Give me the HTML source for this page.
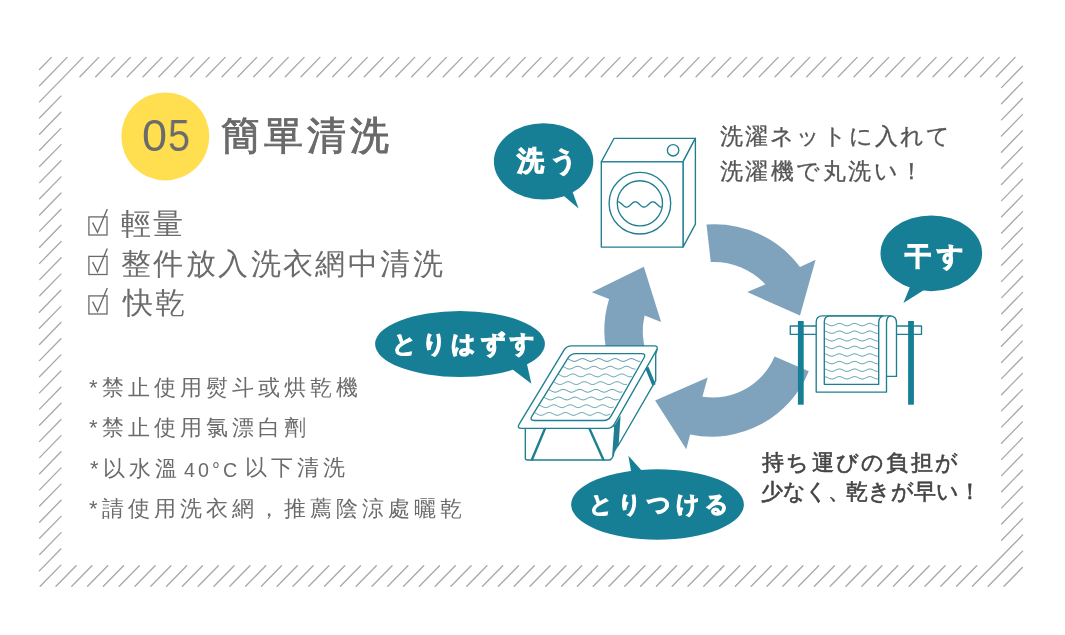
<!DOCTYPE html>
<html><head><meta charset="utf-8">
<style>
html,body{margin:0;padding:0;background:#fff;}
body{width:1065px;height:635px;position:relative;overflow:hidden;font-family:"Liberation Sans",sans-serif;}
svg{position:absolute;left:0;top:0;}
.t{position:absolute;white-space:nowrap;line-height:1;will-change:transform;}
.g{color:#6b6b6b;}
.b{color:#fff;font-weight:bold;}
.g2{color:#555;}
.g3{color:#444;}
</style></head><body>
<svg width="1065" height="635" viewBox="0 0 1065 635">

<path fill="none" stroke="#a9a9a9" stroke-width="1.35" stroke-linecap="round" d="M51.3 57.4L39.5 69.5M67.1 57.4L39.5 85.7M82.9 57.4L39.5 101.9M98.7 57.4L79.9 76.7M60.9 96.1L39.5 118.0M114.5 57.4L95.7 76.7M60.9 112.3L39.5 134.2M130.3 57.4L111.5 76.7M60.9 128.4L39.5 150.3M146.1 57.4L127.3 76.7M61.0 144.6L39.5 166.5M161.9 57.4L143.1 76.7M61.0 160.7L39.6 182.6M177.7 57.4L158.9 76.7M61.0 176.9L39.6 198.8M193.5 57.4L174.7 76.7M61.0 193.0L39.6 215.0M209.3 57.4L190.5 76.7M61.0 209.2L39.6 231.1M225.1 57.4L206.3 76.7M61.0 225.3L39.6 247.3M240.9 57.4L222.1 76.7M61.1 241.5L39.6 263.4M256.7 57.4L237.9 76.7M61.1 257.7L39.7 279.6M272.5 57.4L253.7 76.7M60.8 274.1L39.7 295.7M288.3 57.4L269.5 76.7M60.8 290.2L39.4 312.2M304.1 57.4L285.3 76.7M60.9 306.4L39.4 328.3M319.9 57.4L301.1 76.7M60.9 322.5L39.5 344.5M335.7 57.4L316.9 76.7M60.9 338.7L39.5 360.6M351.5 57.4L332.7 76.7M60.9 354.9L39.5 376.8M367.3 57.4L348.5 76.7M60.9 371.0L39.5 392.9M383.1 57.4L364.3 76.7M60.9 387.2L39.5 409.1M398.9 57.4L380.1 76.7M61.0 403.3L39.5 425.2M414.7 57.4L395.9 76.7M61.0 419.5L39.6 441.4M430.5 57.4L411.7 76.7M61.0 435.6L39.6 457.6M446.3 57.4L427.5 76.7M61.0 451.8L39.6 473.7M462.1 57.4L443.3 76.7M61.0 467.9L39.6 489.9M477.9 57.4L459.1 76.7M61.0 484.1L39.6 506.0M493.7 57.4L474.9 76.7M61.0 500.3L39.6 522.2M509.5 57.4L490.7 76.7M61.1 516.4L39.6 538.3M525.3 57.4L506.5 76.7M61.1 532.6L39.7 554.5M541.1 57.4L522.3 76.7M60.8 549.0L39.4 570.9M556.9 57.4L538.1 76.7M60.9 565.1L40.2 586.3M572.7 57.4L553.9 76.7M76.1 565.7L56.0 586.3M588.5 57.4L569.7 76.7M91.9 565.7L71.8 586.3M604.3 57.4L585.5 76.7M107.7 565.7L87.6 586.3M620.1 57.4L601.3 76.7M123.5 565.7L103.4 586.3M635.9 57.4L617.1 76.7M139.3 565.7L119.2 586.3M651.7 57.4L632.9 76.7M155.1 565.7L135.0 586.3M667.5 57.4L648.7 76.7M170.9 565.7L150.8 586.3M683.3 57.4L664.5 76.7M186.7 565.7L166.6 586.3M699.1 57.4L680.3 76.7M202.5 565.7L182.4 586.3M714.9 57.4L696.1 76.7M218.3 565.7L198.2 586.3M730.7 57.4L711.9 76.7M234.1 565.7L214.0 586.3M746.5 57.4L727.7 76.7M249.9 565.7L229.8 586.3M762.3 57.4L743.5 76.7M265.7 565.7L245.6 586.3M778.1 57.4L759.3 76.7M281.5 565.7L261.4 586.3M793.9 57.4L775.1 76.7M297.3 565.7L277.2 586.3M809.7 57.4L790.9 76.7M313.1 565.7L293.0 586.3M825.5 57.4L806.7 76.7M328.9 565.7L308.8 586.3M841.3 57.4L822.5 76.7M344.7 565.7L324.6 586.3M857.1 57.4L838.3 76.7M360.5 565.7L340.4 586.3M872.9 57.4L854.1 76.7M376.3 565.7L356.2 586.3M888.7 57.4L869.9 76.7M392.1 565.7L372.0 586.3M904.5 57.4L885.7 76.7M407.9 565.7L387.8 586.3M920.3 57.4L901.5 76.7M423.7 565.7L403.6 586.3M936.1 57.4L917.3 76.7M439.5 565.7L419.4 586.3M951.9 57.4L933.1 76.7M455.3 565.7L435.2 586.3M967.7 57.4L948.9 76.7M471.1 565.7L451.0 586.3M983.5 57.4L964.7 76.7M486.9 565.7L466.8 586.3M999.3 57.4L980.5 76.7M502.7 565.7L482.6 586.3M1015.1 57.4L996.3 76.7M518.5 565.7L498.4 586.3M1022.4 66.2L1001.5 87.6M534.3 565.7L514.2 586.3M1022.4 82.3L1001.5 103.7M550.1 565.7L530.0 586.3M1022.4 98.5L1001.5 119.9M565.9 565.7L545.8 586.3M1022.4 114.6L1001.5 136.0M581.7 565.7L561.6 586.3M1022.4 130.8L1001.5 152.2M597.5 565.7L577.4 586.3M1022.4 146.9L1001.5 168.3M613.3 565.7L593.2 586.3M1022.4 163.1L1001.5 184.5M629.1 565.7L609.0 586.3M1022.5 179.3L1001.6 200.6M644.9 565.7L624.8 586.3M1022.5 195.4L1001.6 216.8M660.7 565.7L640.6 586.3M1022.5 211.6L1001.6 233.0M676.5 565.7L656.4 586.3M1022.5 227.7L1001.6 249.1M692.3 565.7L672.2 586.3M1022.5 243.9L1001.6 265.3M708.1 565.7L688.0 586.3M1022.5 260.0L1001.6 281.4M723.9 565.7L703.8 586.3M1022.6 276.2L1001.7 297.6M739.7 565.7L719.6 586.3M1022.6 292.4L1001.7 313.7M755.5 565.7L735.4 586.3M1022.3 308.8L1001.4 330.2M771.3 565.7L751.2 586.3M1022.3 324.9L1001.4 346.3M787.1 565.7L767.0 586.3M1022.4 341.1L1001.5 362.5M802.9 565.7L782.8 586.3M1022.4 357.2L1001.5 378.6M818.7 565.7L798.6 586.3M1022.4 373.4L1001.5 394.8M834.5 565.7L814.4 586.3M1022.4 389.6L1001.5 410.9M850.3 565.7L830.2 586.3M1022.4 405.7L1001.5 427.1M866.1 565.7L846.0 586.3M1022.4 421.9L1001.5 443.3M881.9 565.7L861.8 586.3M1022.5 438.0L1001.6 459.4M897.7 565.7L877.6 586.3M1022.5 454.2L1001.6 475.6M913.5 565.7L893.4 586.3M1022.5 470.3L1001.6 491.7M929.3 565.7L909.2 586.3M1022.5 486.5L1001.6 507.9M945.1 565.7L925.0 586.3M1022.5 502.6L1001.6 524.0M960.9 565.7L940.8 586.3M1022.5 518.8L1001.6 540.2M976.7 565.7L956.6 586.3M1022.6 535.0L972.4 586.3M1022.6 551.1L988.2 586.3M1022.3 567.5L1004.0 586.3"/>
<circle cx="165.3" cy="136.4" r="44" fill="#ffdf50"/>
<g fill="#7fa2bd">
<path d="M706.5 224.5A107 107 0 0 1 800 267L815.6 259.7L800 315.5L747.2 292.1L765.4 284.3A70 70 0 0 0 710.8 262.1Z"/>
<path d="M808.8 371.2A105 105 0 0 1 690.1 434.5L686.3 449.3L655.1 400.5L707.7 377.4L702.4 396.7A67 67 0 0 0 774.6 356.6Z"/>
<path d="M609.6 363A106 106 0 0 1 609.1 299.1L591.8 292.3L643.8 266.8L661.1 321.9L644.6 315.6A68 68 0 0 0 646 351.9Z"/>
</g>
<g fill="#167f96">
<path d="M493.90000000000003 161.4A49.7 38.2 0 1 1 593.3000000000001 161.4A49.7 38.2 0 1 1 493.90000000000003 161.4ZM555.4 188.8L569.5 183.2L578.6 208.6Z"/>
<path d="M880.5 253.3A50.8 37.8 0 1 1 982.0999999999999 253.3A50.8 37.8 0 1 1 880.5 253.3ZM912.2 281.6L927.2 287.9L903.4 302.9Z"/>
<path d="M375.1 344A84.9 33 0 1 1 544.9 344A84.9 33 0 1 1 375.1 344ZM504.4 363.4L524.7 353.9L531.4 383.7Z"/>
<path d="M571.1 504.5A86.4 35.2 0 1 1 743.9 504.5A86.4 35.2 0 1 1 571.1 504.5ZM632.6 480.1L628.4 455.8L647.9 477.4Z"/>
</g>
<g fill="#fff" stroke="#1f7f91" stroke-width="1.35" stroke-linejoin="round">
<path d="M601.3 161.9L614.1 138.3H695.4L683 161.9Z"/>
<path d="M683 161.9L695.4 138.3V224.1L683 247.1Z"/>
<rect x="601.3" y="161.9" width="81.7" height="85.2"/>
<circle cx="673.1" cy="150.3" r="5.7"/>
<circle cx="639.9" cy="203.2" r="30.8"/>
<circle cx="639.9" cy="203.3" r="22.6"/>
<path fill="none" d="M617.8 201.80L618.6 201.91L619.4 202.23L620.2 202.72L621.0 203.36L621.8 204.09L622.6 204.85L623.4 205.58L624.2 206.21L625.0 206.70L625.8 207.00L626.6 207.10L627.4 206.98L628.2 206.65L629.0 206.14L629.8 205.49L630.6 204.76L631.4 204.00L632.2 203.28L633.0 202.65L633.8 202.18L634.6 201.88L635.4 201.80L636.2 201.94L637.0 202.28L637.8 202.80L638.6 203.45L639.4 204.19L640.2 204.95L641.0 205.66L641.8 206.28L642.6 206.75L643.4 207.03L644.2 207.10L645.0 206.95L645.8 206.59L646.6 206.06L647.4 205.40L648.2 204.66L649.0 203.91L649.8 203.19L650.6 202.58L651.4 202.13L652.2 201.86L653.0 201.81L653.8 201.97L654.6 202.33L655.4 202.87L656.2 203.54L657.0 204.28L657.8 205.04L658.6 205.75L659.4 206.35L660.2 206.79L661.0 207.05L661.8 207.09"/>
</g>
<!-- tray -->
<g fill="#fff" stroke="#1f7f91" stroke-width="1.35" stroke-linejoin="round" stroke-linecap="round">
<path fill="none" d="M657 350L655.7 354V380.6L618.2 445.5"/>
<path d="M525.3 426V458Q525.3 460 527.5 460H609.5Q612 459.5 613.5 455L616 426Z"/>
<path fill="none" stroke-width="2.4" d="M545 428.5L532 459.5M589.4 428.5L603.3 459.5"/>
<path fill="#1f7f91" stroke="none" d="M614.2 426L620.6 415.5L618.6 445.5L612.1 456.5Z"/>
<path fill="none" stroke-width="3.6" stroke-linecap="butt" d="M646.8 367.5L654 385"/>
<path d="M564.0 350.2Q566.6 345.9 571.6 345.9L654.0 345.9Q659.0 345.9 656.5 350.2L614.4 424.1Q611.9 428.4 606.9 428.4L521.6 428.4Q516.6 428.4 519.2 424.1Z"/>
<path d="M568.1 357.9Q570.7 353.6 575.7 353.6L641.4 353.6Q646.4 353.6 643.9 358.0L611.0 416.1Q608.5 420.5 603.5 420.5L534.3 420.5Q529.3 420.5 531.9 416.2Z"/>
<path fill="none" stroke="#4f98a8" stroke-width="0.95" d="M568.0 358.94L569.0 359.36L570.0 359.88L571.0 360.41L572.0 360.89L573.0 361.23L574.0 361.39L575.0 361.35L576.0 361.11L577.0 360.71L578.0 360.20L579.0 359.67L580.0 359.18L581.0 358.81L582.0 358.62L583.0 358.63L584.0 358.84L585.0 359.22L586.0 359.72L587.0 360.26L588.0 360.75L589.0 361.14L590.0 361.36L591.0 361.38L592.0 361.20L593.0 360.84L594.0 360.36L595.0 359.82L596.0 359.32L597.0 358.91L598.0 358.66L599.0 358.61L600.0 358.76L601.0 359.09L602.0 359.56L603.0 360.10L604.0 360.61L605.0 361.04L606.0 361.32L607.0 361.40L608.0 361.28L609.0 360.97L610.0 360.51L611.0 359.99L612.0 359.46L613.0 359.01L614.0 358.71L615.0 358.60L616.0 358.69L617.0 358.98L618.0 359.41L619.0 359.93L620.0 360.46L621.0 360.93L622.0 361.25L623.0 361.40L624.0 361.33L625.0 361.08L626.0 360.66L627.0 360.15L628.0 359.61L629.0 359.14L630.0 358.79L631.0 358.61L632.0 358.64L633.0 358.87L634.0 359.27L635.0 359.77L636.0 360.31L637.0 360.80L638.0 361.17L639.0 361.37L640.0 361.37M563.2 366.64L564.2 367.06L565.2 367.58L566.2 368.11L567.2 368.59L568.2 368.93L569.2 369.09L570.2 369.05L571.2 368.81L572.2 368.41L573.2 367.90L574.2 367.37L575.2 366.88L576.2 366.51L577.2 366.32L578.2 366.33L579.2 366.54L580.2 366.92L581.2 367.42L582.2 367.96L583.2 368.45L584.2 368.84L585.2 369.06L586.2 369.08L587.2 368.90L588.2 368.54L589.2 368.06L590.2 367.52L591.2 367.02L592.2 366.61L593.2 366.36L594.2 366.31L595.2 366.46L596.2 366.79L597.2 367.26L598.2 367.80L599.2 368.31L600.2 368.74L601.2 369.02L602.2 369.10L603.2 368.98L604.2 368.67L605.2 368.21L606.2 367.69L607.2 367.16L608.2 366.71L609.2 366.41L610.2 366.30L611.2 366.39L612.2 366.68L613.2 367.11L614.2 367.63L615.2 368.16L616.2 368.63L617.2 368.95L618.2 369.10L619.2 369.03L620.2 368.78L621.2 368.36L622.2 367.85L623.2 367.31L624.2 366.84L625.2 366.49L626.2 366.31L627.2 366.34L628.2 366.57L629.2 366.97L630.2 367.47L631.2 368.01L632.2 368.50L633.2 368.87L634.2 369.07L635.2 369.07M558.4 374.34L559.4 374.76L560.4 375.28L561.4 375.81L562.4 376.29L563.4 376.63L564.4 376.79L565.4 376.75L566.4 376.51L567.4 376.11L568.4 375.60L569.4 375.07L570.4 374.58L571.4 374.21L572.4 374.02L573.4 374.03L574.4 374.24L575.4 374.62L576.4 375.12L577.4 375.66L578.4 376.15L579.4 376.54L580.4 376.76L581.4 376.78L582.4 376.60L583.4 376.24L584.4 375.76L585.4 375.22L586.4 374.72L587.4 374.31L588.4 374.06L589.4 374.01L590.4 374.16L591.4 374.49L592.4 374.96L593.4 375.50L594.4 376.01L595.4 376.44L596.4 376.72L597.4 376.80L598.4 376.68L599.4 376.37L600.4 375.91L601.4 375.39L602.4 374.86L603.4 374.41L604.4 374.11L605.4 374.00L606.4 374.09L607.4 374.38L608.4 374.81L609.4 375.33L610.4 375.86L611.4 376.33L612.4 376.65L613.4 376.80L614.4 376.73L615.4 376.48L616.4 376.06L617.4 375.55L618.4 375.01L619.4 374.54L620.4 374.19L621.4 374.01L622.4 374.04L623.4 374.27L624.4 374.67L625.4 375.17L626.4 375.71L627.4 376.20L628.4 376.57L629.4 376.77L630.4 376.77L631.4 376.57M553.7 382.04L554.7 382.46L555.7 382.98L556.7 383.51L557.7 383.99L558.7 384.33L559.7 384.49L560.7 384.45L561.7 384.21L562.7 383.81L563.7 383.30L564.7 382.77L565.7 382.28L566.7 381.91L567.7 381.72L568.7 381.73L569.7 381.94L570.7 382.32L571.7 382.82L572.7 383.36L573.7 383.85L574.7 384.24L575.7 384.46L576.7 384.48L577.7 384.30L578.7 383.94L579.7 383.46L580.7 382.92L581.7 382.42L582.7 382.01L583.7 381.76L584.7 381.71L585.7 381.86L586.7 382.19L587.7 382.66L588.7 383.20L589.7 383.71L590.7 384.14L591.7 384.42L592.7 384.50L593.7 384.38L594.7 384.07L595.7 383.61L596.7 383.09L597.7 382.56L598.7 382.11L599.7 381.81L600.7 381.70L601.7 381.79L602.7 382.08L603.7 382.51L604.7 383.03L605.7 383.56L606.7 384.03L607.7 384.35L608.7 384.50L609.7 384.43L610.7 384.18L611.7 383.76L612.7 383.25L613.7 382.71L614.7 382.24L615.7 381.89L616.7 381.71L617.7 381.74L618.7 381.97L619.7 382.37L620.7 382.87L621.7 383.41L622.7 383.90L623.7 384.27L624.7 384.47L625.7 384.47L626.7 384.27M548.9 389.74L549.9 390.16L550.9 390.68L551.9 391.21L552.9 391.69L553.9 392.03L554.9 392.19L555.9 392.15L556.9 391.91L557.9 391.51L558.9 391.00L559.9 390.47L560.9 389.98L561.9 389.61L562.9 389.42L563.9 389.43L564.9 389.64L565.9 390.02L566.9 390.52L567.9 391.06L568.9 391.55L569.9 391.94L570.9 392.16L571.9 392.18L572.9 392.00L573.9 391.64L574.9 391.16L575.9 390.62L576.9 390.12L577.9 389.71L578.9 389.46L579.9 389.41L580.9 389.56L581.9 389.89L582.9 390.36L583.9 390.90L584.9 391.41L585.9 391.84L586.9 392.12L587.9 392.20L588.9 392.08L589.9 391.77L590.9 391.31L591.9 390.79L592.9 390.26L593.9 389.81L594.9 389.51L595.9 389.40L596.9 389.49L597.9 389.78L598.9 390.21L599.9 390.73L600.9 391.26L601.9 391.73L602.9 392.05L603.9 392.20L604.9 392.13L605.9 391.88L606.9 391.46L607.9 390.95L608.9 390.41L609.9 389.94L610.9 389.59L611.9 389.41L612.9 389.44L613.9 389.67L614.9 390.07L615.9 390.57L616.9 391.11L617.9 391.60L618.9 391.97L619.9 392.17L620.9 392.17L621.9 391.97M544.2 397.44L545.2 397.86L546.2 398.38L547.2 398.91L548.2 399.39L549.2 399.73L550.2 399.89L551.2 399.85L552.2 399.61L553.2 399.21L554.2 398.70L555.2 398.17L556.2 397.68L557.2 397.31L558.2 397.12L559.2 397.13L560.2 397.34L561.2 397.72L562.2 398.22L563.2 398.76L564.2 399.25L565.2 399.64L566.2 399.86L567.2 399.88L568.2 399.70L569.2 399.34L570.2 398.86L571.2 398.32L572.2 397.82L573.2 397.41L574.2 397.16L575.2 397.11L576.2 397.26L577.2 397.59L578.2 398.06L579.2 398.60L580.2 399.11L581.2 399.54L582.2 399.82L583.2 399.90L584.2 399.78L585.2 399.47L586.2 399.01L587.2 398.49L588.2 397.96L589.2 397.51L590.2 397.21L591.2 397.10L592.2 397.19L593.2 397.48L594.2 397.91L595.2 398.43L596.2 398.96L597.2 399.43L598.2 399.75L599.2 399.90L600.2 399.83L601.2 399.58L602.2 399.16L603.2 398.65L604.2 398.11L605.2 397.64L606.2 397.29L607.2 397.11L608.2 397.14L609.2 397.37L610.2 397.77L611.2 398.27L612.2 398.81L613.2 399.30L614.2 399.67L615.2 399.87L616.2 399.87L617.2 399.67L618.2 399.30M539.4 405.14L540.4 405.56L541.4 406.08L542.4 406.61L543.4 407.09L544.4 407.43L545.4 407.59L546.4 407.55L547.4 407.31L548.4 406.91L549.4 406.40L550.4 405.87L551.4 405.38L552.4 405.01L553.4 404.82L554.4 404.83L555.4 405.04L556.4 405.42L557.4 405.92L558.4 406.46L559.4 406.95L560.4 407.34L561.4 407.56L562.4 407.58L563.4 407.40L564.4 407.04L565.4 406.56L566.4 406.02L567.4 405.52L568.4 405.11L569.4 404.86L570.4 404.81L571.4 404.96L572.4 405.29L573.4 405.76L574.4 406.30L575.4 406.81L576.4 407.24L577.4 407.52L578.4 407.60L579.4 407.48L580.4 407.17L581.4 406.71L582.4 406.19L583.4 405.66L584.4 405.21L585.4 404.91L586.4 404.80L587.4 404.89L588.4 405.18L589.4 405.61L590.4 406.13L591.4 406.66L592.4 407.13L593.4 407.45L594.4 407.60L595.4 407.53L596.4 407.28L597.4 406.86L598.4 406.35L599.4 405.81L600.4 405.34L601.4 404.99L602.4 404.81L603.4 404.84L604.4 405.07L605.4 405.47L606.4 405.97L607.4 406.51L608.4 407.00L609.4 407.37L610.4 407.57L611.4 407.57L612.4 407.37L613.4 407.00M534.7 412.84L535.7 413.26L536.7 413.78L537.7 414.31L538.7 414.79L539.7 415.13L540.7 415.29L541.7 415.25L542.7 415.01L543.7 414.61L544.7 414.10L545.7 413.57L546.7 413.08L547.7 412.71L548.7 412.52L549.7 412.53L550.7 412.74L551.7 413.12L552.7 413.62L553.7 414.16L554.7 414.65L555.7 415.04L556.7 415.26L557.7 415.28L558.7 415.10L559.7 414.74L560.7 414.26L561.7 413.72L562.7 413.22L563.7 412.81L564.7 412.56L565.7 412.51L566.7 412.66L567.7 412.99L568.7 413.46L569.7 414.00L570.7 414.51L571.7 414.94L572.7 415.22L573.7 415.30L574.7 415.18L575.7 414.87L576.7 414.41L577.7 413.89L578.7 413.36L579.7 412.91L580.7 412.61L581.7 412.50L582.7 412.59L583.7 412.88L584.7 413.31L585.7 413.83L586.7 414.36L587.7 414.83L588.7 415.15L589.7 415.30L590.7 415.23L591.7 414.98L592.7 414.56L593.7 414.05L594.7 413.51L595.7 413.04L596.7 412.69L597.7 412.51L598.7 412.54L599.7 412.77L600.7 413.17L601.7 413.67L602.7 414.21L603.7 414.70L604.7 415.07L605.7 415.27L606.7 415.27L607.7 415.07L608.7 414.70L609.7 414.21"/>
</g>
<!-- rack -->
<g fill="#fff" stroke="#1f7f91" stroke-width="1.35" stroke-linejoin="round">
<rect x="790.3" y="326" width="131.2" height="8.4"/>
<path d="M816.2 392.1V322Q816.2 315.8 822.5 315.8H890Q896.5 315.8 896.5 323V376.4H886.5V392.1Z"/>
<path fill="none" d="M886.5 376.4V323Q886.5 316 891 315.8"/>
<path d="M824.3 384.3V322Q824.3 316 830 316H883Q878.7 317 878.7 323V384.3Z"/>
<path fill="none" stroke="#4f98a8" stroke-width="0.95" d="M824.8 323.44L825.8 323.65L826.8 324.03L827.8 324.50L828.8 324.99L829.8 325.41L830.8 325.70L831.8 325.80L832.8 325.70L833.8 325.41L834.8 324.99L835.8 324.50L836.8 324.03L837.8 323.65L838.8 323.44L839.8 323.42L840.8 323.60L841.8 323.94L842.8 324.40L843.8 324.89L844.8 325.34L845.8 325.66L846.8 325.80L847.8 325.73L848.8 325.48L849.8 325.08L850.8 324.60L851.8 324.12L852.8 323.72L853.8 323.47L854.8 323.40L855.8 323.54L856.8 323.86L857.8 324.31L858.8 324.80L859.8 325.26L860.8 325.60L861.8 325.78L862.8 325.76L863.8 325.55L864.8 325.17L865.8 324.70L866.8 324.21L867.8 323.79L868.8 323.50L869.8 323.40L870.8 323.50L871.8 323.79L872.8 324.21L873.8 324.70L874.8 325.17L875.8 325.55L876.8 325.76L877.8 325.78M824.8 331.04L825.8 331.25L826.8 331.63L827.8 332.10L828.8 332.59L829.8 333.01L830.8 333.30L831.8 333.40L832.8 333.30L833.8 333.01L834.8 332.59L835.8 332.10L836.8 331.63L837.8 331.25L838.8 331.04L839.8 331.02L840.8 331.20L841.8 331.54L842.8 332.00L843.8 332.49L844.8 332.94L845.8 333.26L846.8 333.40L847.8 333.33L848.8 333.08L849.8 332.68L850.8 332.20L851.8 331.72L852.8 331.32L853.8 331.07L854.8 331.00L855.8 331.14L856.8 331.46L857.8 331.91L858.8 332.40L859.8 332.86L860.8 333.20L861.8 333.38L862.8 333.36L863.8 333.15L864.8 332.77L865.8 332.30L866.8 331.81L867.8 331.39L868.8 331.10L869.8 331.00L870.8 331.10L871.8 331.39L872.8 331.81L873.8 332.30L874.8 332.77L875.8 333.15L876.8 333.36L877.8 333.38M824.8 338.64L825.8 338.85L826.8 339.23L827.8 339.70L828.8 340.19L829.8 340.61L830.8 340.90L831.8 341.00L832.8 340.90L833.8 340.61L834.8 340.19L835.8 339.70L836.8 339.23L837.8 338.85L838.8 338.64L839.8 338.62L840.8 338.80L841.8 339.14L842.8 339.60L843.8 340.09L844.8 340.54L845.8 340.86L846.8 341.00L847.8 340.93L848.8 340.68L849.8 340.28L850.8 339.80L851.8 339.32L852.8 338.92L853.8 338.67L854.8 338.60L855.8 338.74L856.8 339.06L857.8 339.51L858.8 340.00L859.8 340.46L860.8 340.80L861.8 340.98L862.8 340.96L863.8 340.75L864.8 340.37L865.8 339.90L866.8 339.41L867.8 338.99L868.8 338.70L869.8 338.60L870.8 338.70L871.8 338.99L872.8 339.41L873.8 339.90L874.8 340.37L875.8 340.75L876.8 340.96L877.8 340.98M824.8 346.24L825.8 346.45L826.8 346.83L827.8 347.30L828.8 347.79L829.8 348.21L830.8 348.50L831.8 348.60L832.8 348.50L833.8 348.21L834.8 347.79L835.8 347.30L836.8 346.83L837.8 346.45L838.8 346.24L839.8 346.22L840.8 346.40L841.8 346.74L842.8 347.20L843.8 347.69L844.8 348.14L845.8 348.46L846.8 348.60L847.8 348.53L848.8 348.28L849.8 347.88L850.8 347.40L851.8 346.92L852.8 346.52L853.8 346.27L854.8 346.20L855.8 346.34L856.8 346.66L857.8 347.11L858.8 347.60L859.8 348.06L860.8 348.40L861.8 348.58L862.8 348.56L863.8 348.35L864.8 347.97L865.8 347.50L866.8 347.01L867.8 346.59L868.8 346.30L869.8 346.20L870.8 346.30L871.8 346.59L872.8 347.01L873.8 347.50L874.8 347.97L875.8 348.35L876.8 348.56L877.8 348.58M824.8 353.84L825.8 354.05L826.8 354.43L827.8 354.90L828.8 355.39L829.8 355.81L830.8 356.10L831.8 356.20L832.8 356.10L833.8 355.81L834.8 355.39L835.8 354.90L836.8 354.43L837.8 354.05L838.8 353.84L839.8 353.82L840.8 354.00L841.8 354.34L842.8 354.80L843.8 355.29L844.8 355.74L845.8 356.06L846.8 356.20L847.8 356.13L848.8 355.88L849.8 355.48L850.8 355.00L851.8 354.52L852.8 354.12L853.8 353.87L854.8 353.80L855.8 353.94L856.8 354.26L857.8 354.71L858.8 355.20L859.8 355.66L860.8 356.00L861.8 356.18L862.8 356.16L863.8 355.95L864.8 355.57L865.8 355.10L866.8 354.61L867.8 354.19L868.8 353.90L869.8 353.80L870.8 353.90L871.8 354.19L872.8 354.61L873.8 355.10L874.8 355.57L875.8 355.95L876.8 356.16L877.8 356.18M824.8 361.44L825.8 361.65L826.8 362.03L827.8 362.50L828.8 362.99L829.8 363.41L830.8 363.70L831.8 363.80L832.8 363.70L833.8 363.41L834.8 362.99L835.8 362.50L836.8 362.03L837.8 361.65L838.8 361.44L839.8 361.42L840.8 361.60L841.8 361.94L842.8 362.40L843.8 362.89L844.8 363.34L845.8 363.66L846.8 363.80L847.8 363.73L848.8 363.48L849.8 363.08L850.8 362.60L851.8 362.12L852.8 361.72L853.8 361.47L854.8 361.40L855.8 361.54L856.8 361.86L857.8 362.31L858.8 362.80L859.8 363.26L860.8 363.60L861.8 363.78L862.8 363.76L863.8 363.55L864.8 363.17L865.8 362.70L866.8 362.21L867.8 361.79L868.8 361.50L869.8 361.40L870.8 361.50L871.8 361.79L872.8 362.21L873.8 362.70L874.8 363.17L875.8 363.55L876.8 363.76L877.8 363.78M824.8 369.04L825.8 369.25L826.8 369.63L827.8 370.10L828.8 370.59L829.8 371.01L830.8 371.30L831.8 371.40L832.8 371.30L833.8 371.01L834.8 370.59L835.8 370.10L836.8 369.63L837.8 369.25L838.8 369.04L839.8 369.02L840.8 369.20L841.8 369.54L842.8 370.00L843.8 370.49L844.8 370.94L845.8 371.26L846.8 371.40L847.8 371.33L848.8 371.08L849.8 370.68L850.8 370.20L851.8 369.72L852.8 369.32L853.8 369.07L854.8 369.00L855.8 369.14L856.8 369.46L857.8 369.91L858.8 370.40L859.8 370.86L860.8 371.20L861.8 371.38L862.8 371.36L863.8 371.15L864.8 370.77L865.8 370.30L866.8 369.81L867.8 369.39L868.8 369.10L869.8 369.00L870.8 369.10L871.8 369.39L872.8 369.81L873.8 370.30L874.8 370.77L875.8 371.15L876.8 371.36L877.8 371.38M824.8 376.64L825.8 376.85L826.8 377.23L827.8 377.70L828.8 378.19L829.8 378.61L830.8 378.90L831.8 379.00L832.8 378.90L833.8 378.61L834.8 378.19L835.8 377.70L836.8 377.23L837.8 376.85L838.8 376.64L839.8 376.62L840.8 376.80L841.8 377.14L842.8 377.60L843.8 378.09L844.8 378.54L845.8 378.86L846.8 379.00L847.8 378.93L848.8 378.68L849.8 378.28L850.8 377.80L851.8 377.32L852.8 376.92L853.8 376.67L854.8 376.60L855.8 376.74L856.8 377.06L857.8 377.51L858.8 378.00L859.8 378.46L860.8 378.80L861.8 378.98L862.8 378.96L863.8 378.75L864.8 378.37L865.8 377.90L866.8 377.41L867.8 376.99L868.8 376.70L869.8 376.60L870.8 376.70L871.8 376.99L872.8 377.41L873.8 377.90L874.8 378.37L875.8 378.75L876.8 378.96L877.8 378.98"/>
</g>
<g fill="#167f96">
<rect x="797.9" y="321" width="5.8" height="83.7"/>
<rect x="908.1" y="321" width="5.8" height="83.7"/>
</g>
<!-- checkboxes -->
<g fill="none" stroke="#6b6b6b" stroke-width="1.3">
<rect x="88.9" y="216.9" width="18.1" height="18.1"/>
<rect x="88.9" y="256.4" width="18.1" height="18.1"/>
<rect x="88.9" y="295.9" width="18.1" height="18.1"/>
</g>
<g fill="none" stroke="#6b6b6b" stroke-width="1.4" stroke-linejoin="miter">
<path d="M92.6 222.6L97.5 232.4L107.3 209.1"/>
<path d="M92.6 262.1L97.5 271.9L107.3 248.6"/>
<path d="M92.6 301.6L97.5 311.4L107.3 288.1"/>
</g>
</svg>
<div class="t g" style="left:142.4px;top:113.4px;font-size:45px;">0</div>
<div class="t g" style="left:168.2px;top:113.4px;font-size:45px;transform:scaleX(0.88);transform-origin:0 0;">5</div>
<div class="t g" style="left:221.20px;top:116.80px;font-size:38.97px;letter-spacing:4.05px;-webkit-text-stroke:0.9px #666;">簡單清洗</div>
<div class="t g" style="left:120.70px;top:208.91px;font-size:29.80px;letter-spacing:2.40px;">輕量</div>
<div class="t g" style="left:120.70px;top:249.02px;font-size:29.80px;letter-spacing:2.40px;">整件放入洗衣網中清洗</div>
<div class="t g" style="left:122.70px;top:288.23px;font-size:29.80px;letter-spacing:2.40px;">快乾</div>
<div class="t g" style="left:88.80px;top:376.88px;font-size:22.00px;letter-spacing:4.00px;">*禁止使用熨斗或烘乾機</div>
<div class="t g" style="left:88.80px;top:417.30px;font-size:22.00px;letter-spacing:4.00px;">*禁止使用氯漂白劑</div>
<div class="t g" style="left:89.70px;top:457.50px;font-size:22.00px;letter-spacing:4.00px;">*以水溫</div>
<div class="t g" style="left:184.30px;top:461.30px;font-size:19.68px;letter-spacing:3.12px;">40°C</div>
<div class="t g" style="left:245.30px;top:457.30px;font-size:22.00px;letter-spacing:4.00px;">以下清洗</div>
<div class="t g" style="left:88.80px;top:498.00px;font-size:22.00px;letter-spacing:4.00px;">*請使用洗衣網，推薦陰涼處曬乾</div>
<div class="t g2" style="left:720.40px;top:125.25px;font-size:23.20px;letter-spacing:2.13px;-webkit-text-stroke:0.3px #555;">洗濯ネットに入れて</div>
<div class="t g2" style="left:720.40px;top:159.85px;font-size:23.20px;letter-spacing:2.48px;-webkit-text-stroke:0.3px #555;">洗濯機で丸洗い！</div>
<div class="t g3" style="left:762.20px;top:451.68px;font-size:22.25px;letter-spacing:2.25px;-webkit-text-stroke:0.6px #444;">持ち運びの負担が</div>
<div class="t g3" style="left:760.70px;top:481.06px;font-size:21.99px;letter-spacing:-0.43px;-webkit-text-stroke:0.6px #444;">少なく、</div>
<div class="t g3" style="left:845.90px;top:481.06px;font-size:22.29px;letter-spacing:-0.06px;-webkit-text-stroke:0.6px #444;">乾きが早い！</div>
<div class="t b" style="left:517.00px;top:148.28px;font-size:26.50px;letter-spacing:5.90px;-webkit-text-stroke:1.1px #fff;">洗う</div>
<div class="t b" style="left:904.90px;top:242.52px;font-size:26.46px;letter-spacing:5.57px;-webkit-text-stroke:1.1px #fff;">干す</div>
<div class="t b" style="left:391.50px;top:331.53px;font-size:24.00px;letter-spacing:4.60px;-webkit-text-stroke:1.1px #fff;">とりはずす</div>
<div class="t b" style="left:589.10px;top:493.28px;font-size:23.20px;letter-spacing:4.99px;-webkit-text-stroke:1.1px #fff;">とりつける</div>
</body></html>
